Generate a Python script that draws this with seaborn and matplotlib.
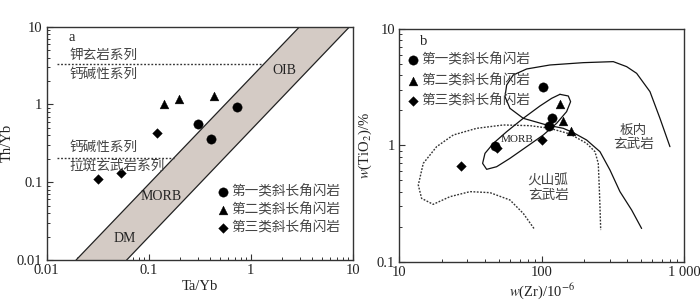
import numpy as np
import pandas as pd
import matplotlib
matplotlib.use("Agg")
import matplotlib.pyplot as plt
import seaborn as sns

# ---------------- data ----------------
groups = ["第一类斜长角闪岩", "第二类斜长角闪岩", "第三类斜长角闪岩"]

# panel a: Ta/Yb vs Th/Yb
a_g1_x = [0.305, 0.411, 0.733]
a_g1_y = [0.555, 0.36, 0.918]
a_g2_x = [0.14, 0.199, 0.433]
a_g2_y = [1.01, 1.19, 1.28]
a_g3_x = [0.032, 0.053, 0.121]
a_g3_y = [0.11, 0.131, 0.425]

band_left_x = [0.0194, 3.0]
band_left_y = [0.01, 10.0]
band_right_x = [0.0607, 9.27]
band_right_y = [0.01, 10.0]

sho_line_x = [0.0125, 1.32]
sho_line_y = [3.28, 3.28]
th_line_x = [0.0125, 0.175]
th_line_y = [0.203, 0.203]

# panel b: Zr vs TiO2
b_g1_x = [101.6, 117.5, 112.6, 47.0]
b_g1_y = [3.15, 1.72, 1.46, 0.99]
b_g2_x = [134.5, 142.0, 160.7]
b_g2_y = [2.27, 1.62, 1.33]
b_g3_x = [27.1, 48.5, 100.0]
b_g3_y = [0.664, 0.955, 1.11]

wpb_x = [797, 678, 577, 465, 395.5, 318.7, 196.2, 114.4, 78.5, 63.2, 56.8, 55.3,
         59.9, 74.3, 108.4, 142, 167, 207, 257, 302, 355, 429, 504]
wpb_y = [0.974, 1.707, 2.893, 4.157, 4.746, 5.24, 5.135, 4.904, 4.532, 4.023, 3.30, 2.62,
         2.08, 1.707, 1.496, 1.40, 1.285, 1.111, 0.882, 0.614, 0.40, 0.278, 0.193]

arc_x = [88.3, 74.3, 59.9, 43.4, 31.4, 22.7, 17.3, 14.35, 13.6, 14.74, 18.3, 23.95,
         34.9, 53.8, 82.8, 114.4, 158.2, 207, 237, 250, 254, 257, 260]
arc_y = [0.193, 0.260, 0.339, 0.392, 0.40, 0.362, 0.311, 0.350, 0.456, 0.70, 0.974, 1.227,
         1.40, 1.496, 1.476, 1.40, 1.252, 1.04, 0.882, 0.70, 0.441, 0.297, 0.187]

morb_x = [134.5, 154, 159.8, 149.8, 127.5, 102.7, 78.5, 59.9, 48.3, 41.1, 38.5, 40.0,
          45.8, 56.8, 74.3, 97.3, 117.6, 134.5]
morb_y = [2.744, 2.655, 2.374, 1.948, 1.546, 1.227, 0.974, 0.773, 0.655, 0.622, 0.70, 0.853,
          1.04, 1.31, 1.707, 2.178, 2.535, 2.744]

a_ticks = [0.01, 0.1, 1, 10]
a_ticklabels = ["0.01", "0.1", "1", "10"]
b_xticks = [10, 100, 1000]
b_xticklabels = ["10", "100", "1 000"]
b_yticks = [0.1, 1, 10]
b_yticklabels = ["0.1", "1", "10"]

# ---------------- style ----------------
sns.set_theme(style="white")
plt.rcParams["font.family"] = ["Liberation Serif", "Noto Sans CJK SC", "DejaVu Sans"]
plt.rcParams["mathtext.fontset"] = "stix"
plt.rcParams["axes.edgecolor"] = "#333333"
plt.rcParams["axes.linewidth"] = 1.0

markers = {groups[0]: "o", groups[1]: "^", groups[2]: "D"}
sizes_map = {groups[0]: 45, groups[1]: 40, groups[2]: 24}

def make_df(xs, ys):
    rows = []
    for g, x, y in zip(groups, xs, ys):
        for xi, yi in zip(x, y):
            rows.append({"x": xi, "y": yi, "g": g})
    return pd.DataFrame(rows)

df_a = make_df([a_g1_x, a_g2_x, a_g3_x], [a_g1_y, a_g2_y, a_g3_y])
df_b = make_df([b_g1_x, b_g2_x, b_g3_x], [b_g1_y, b_g2_y, b_g3_y])

fig = plt.figure(figsize=(7.0, 3.05), dpi=100)
ax1 = fig.add_axes([0.0667, 0.1475, 0.4376, 0.765])
ax2 = fig.add_axes([0.5704, 0.142, 0.4067, 0.763])

cjk = ["Noto Sans CJK SC", "DejaVu Sans"]
tcol = "#222222"
ccol = "#444444"

# ---------------- panel a ----------------
ax1.set_xscale("log")
ax1.set_yscale("log")
ax1.set_xlim(0.01, 10)
ax1.set_ylim(0.01, 10)

poly_x = [band_left_x[0], band_left_x[1], band_right_x[1], band_right_x[0]]
poly_y = [band_left_y[0], band_left_y[1], band_right_y[1], band_right_y[0]]
ax1.fill(poly_x, poly_y, color="#d4cbc5", lw=0, zorder=1)
ax1.plot(band_left_x, band_left_y, color="#222222", lw=0.9, zorder=2)
ax1.plot(band_right_x, band_right_y, color="#222222", lw=0.9, zorder=2)
ax1.plot(sho_line_x, sho_line_y, color="#333333", lw=1.0, ls=(0, (1.3, 1.3)), zorder=2)
ax1.plot(th_line_x, th_line_y, color="#333333", lw=1.0, ls=(0, (1.3, 1.3)), zorder=2)

for g in groups:
    d = df_a[df_a.g == g]
    sns.scatterplot(data=d, x="x", y="y", marker=markers[g], s=sizes_map[g], color="black",
                    edgecolor="black", linewidth=0.3, ax=ax1, label=g, zorder=3)

ax1.text(0.0162, 7.3, "a", fontsize=10.5, va="center", ha="left", color=tcol)
kw = dict(fontsize=9.8, family=cjk, color=ccol, va="center", ha="left")
ax1.text(0.0168, 4.4, "钾玄岩系列", **kw)
ax1.text(0.0168, 2.45, "钙碱性系列", **kw)
ax1.text(0.0168, 0.283, "钙碱性系列", **kw)
ax1.text(0.0168, 0.163, "拉斑玄武岩系列", **kw)
ax1.text(2.14, 2.77, "OIB", fontsize=10, ha="center", va="center", color=tcol)
ax1.text(0.131, 0.065, "MORB", fontsize=10, ha="center", va="center", color=tcol)
ax1.text(0.0575, 0.019, "DM", fontsize=10, ha="center", va="center", color=tcol)

leg1 = ax1.legend(loc="lower right", bbox_to_anchor=(0.985, 0.075), frameon=False,
                  prop={"family": cjk, "size": 9.8}, handletextpad=0.0,
                  labelspacing=0.28, borderaxespad=0.2, handlelength=1.2)
for t in leg1.get_texts():
    t.set_color(ccol)

ax1.set_xticks(a_ticks)
ax1.set_xticklabels(a_ticklabels)
ax1.set_yticks(a_ticks)
ax1.set_yticklabels(a_ticklabels)
ax1.set_xlabel("Ta/Yb", fontsize=10.5, labelpad=2, color=tcol)
ax1.set_ylabel("Th/Yb", fontsize=10.5, labelpad=2, color=tcol)

# ---------------- panel b ----------------
ax2.set_xscale("log")
ax2.set_yscale("log")
ax2.set_xlim(10, 1000)
ax2.set_ylim(0.1, 10)

ax2.plot(wpb_x, wpb_y, color="#111111", lw=0.9, zorder=2)
ax2.plot(arc_x, arc_y, color="#333333", lw=1.0, ls=(0, (1.3, 1.1)), zorder=2)
ax2.plot(morb_x, morb_y, color="#111111", lw=0.9, zorder=2)

for g in groups:
    d = df_b[df_b.g == g]
    sns.scatterplot(data=d, x="x", y="y", marker=markers[g], s=sizes_map[g], color="black",
                    edgecolor="black", linewidth=0.3, ax=ax2, label=g, zorder=3)

ax2.text(14.0, 7.8, "b", fontsize=10.5, va="center", ha="left", color=tcol)
ax2.text(66.7, 1.13, "MORB", fontsize=8, ha="center", va="center", color=tcol)
ax2.text(440, 1.19, "板内\n玄武岩", fontsize=9.8, family=cjk, ha="center", va="center",
         color=ccol, linespacing=1.0)
ax2.text(111, 0.43, "火山弧\n玄武岩", fontsize=9.8, family=cjk, ha="center", va="center",
         color=ccol, linespacing=1.0)

leg2 = ax2.legend(loc="upper left", bbox_to_anchor=(-0.01, 0.935), frameon=False,
                  prop={"family": cjk, "size": 9.8}, handletextpad=0.0,
                  labelspacing=0.5, borderaxespad=0.2, handlelength=1.2)
for t in leg2.get_texts():
    t.set_color(ccol)

ax2.set_xticks(b_xticks)
ax2.set_xticklabels(b_xticklabels)
ax2.set_yticks(b_yticks)
ax2.set_yticklabels(b_yticklabels)
ax2.set_xlabel(r"$w$(Zr)/10$^{-6}$", fontsize=10.5, labelpad=2, color=tcol)
ax2.set_ylabel(r"$w$(TiO$_2$)/%", fontsize=10.5, labelpad=2, color=tcol)

for ax in (ax1, ax2):
    ax.tick_params(which="major", direction="in", length=4, width=0.8, labelsize=10.5,
                   colors="#333333", pad=3, bottom=True, left=True, top=False, right=False)
    ax.tick_params(which="minor", direction="in", length=2.5, width=0.7, colors="#333333",
                   bottom=True, left=True, top=False, right=False)
    for t in ax.get_xticklabels() + ax.get_yticklabels():
        t.set_color(tcol)
    for s in ax.spines.values():
        s.set_visible(True)

fig.savefig("out.png", dpi=100)
